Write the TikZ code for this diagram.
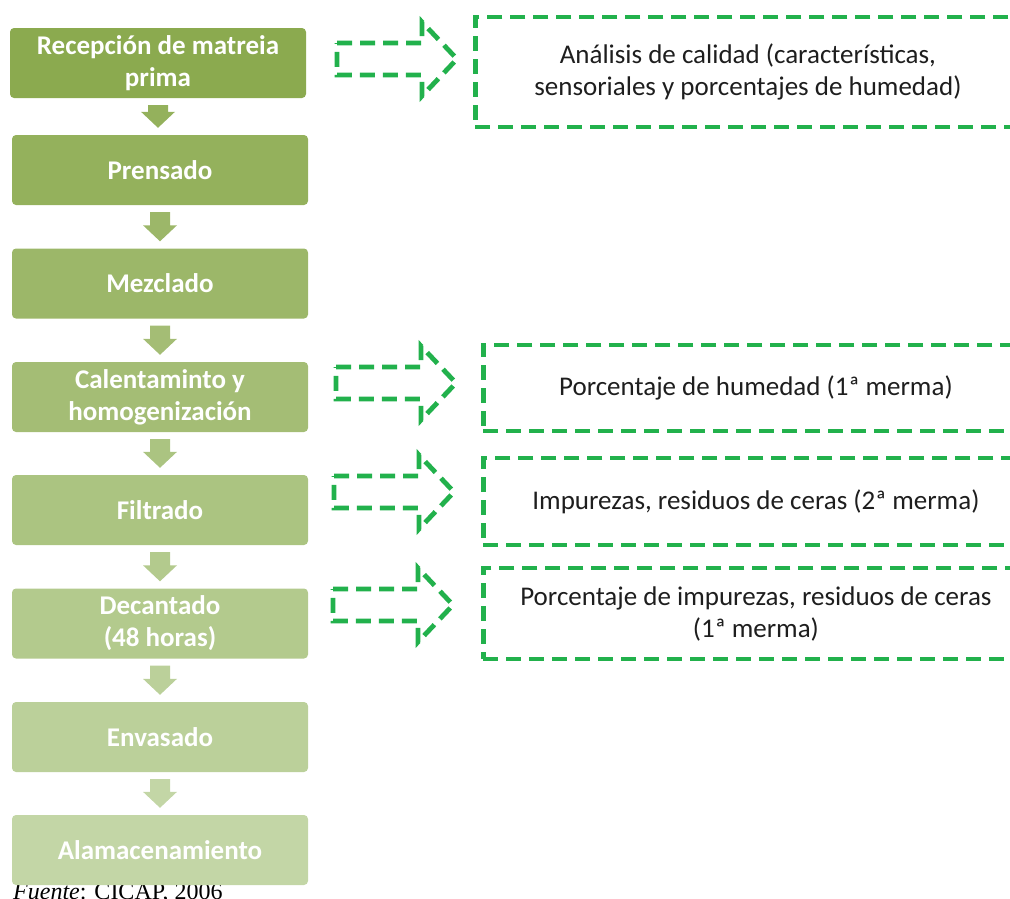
\documentclass[tikz,border=0pt]{standalone}
\usepackage{fontspec}
\setmainfont{Carlito}
\newfontfamily\sourcefont{Liberation Serif}
\usepackage{tikz}
\usetikzlibrary{
    calc,
    positioning
}
\definecolor{greenA}{RGB}{139,170,79}
\definecolor{greenB}{RGB}{148,177,92}
\definecolor{greenC}{RGB}{156,183,105}
\definecolor{greenD}{RGB}{164,189,117}
\definecolor{greenE}{RGB}{171,196,129}
\definecolor{greenF}{RGB}{179,202,141}
\definecolor{greenG}{RGB}{187,208,154}
\definecolor{greenH}{RGB}{195,214,166}
\definecolor{dashgreen}{RGB}{34,177,76}
\definecolor{notegray}{RGB}{30,30,30}
\tikzstyle{stage} = [
    rectangle,
    rounded corners=4pt,
    minimum width=296pt,
    minimum height=70pt,
    inner sep=0pt,
    align=center,
    text=white,
    font=\fontsize{27}{32}\selectfont\bfseries
]
\tikzstyle{note} = [
    rectangle,
    anchor=west,
    draw=dashgreen,
    line width=4.8pt,
    dash pattern=on 15pt off 8pt,
    minimum width=545pt,
    inner sep=0pt,
    align=center,
    text=notegray,
    font=\fontsize{27}{32}\selectfont
]
\tikzstyle{sidearrow} = [
    draw=dashgreen,
    line width=4.8pt,
    dash pattern=on 15pt off 8pt,
    line join=miter
]
% block arrow from one stage down to the next
\newcommand{\stepdown}[3]{%
    \fill[#3] let \p1=(#1.south), \p2=(#2.north) in
        (\x1-10pt,\y1-7pt) -- (\x1+10pt,\y1-7pt) -- (\x1+10pt,\y2+23pt)
        -- (\x1+17pt,\y2+23pt) -- (\x1,\y2+7pt) -- (\x1-17pt,\y2+23pt)
        -- (\x1-10pt,\y2+23pt) -- cycle;}
\begin{document}
\begin{tikzpicture}[x=1pt, y=-1pt]
        \useasboundingbox (0,0) rectangle (1010,898);

        % Source line (mostly hidden behind the last stage)
        \node[anchor=base west, inner sep=0pt, font=\sourcefont\fontsize{24}{28}\selectfont] (fuente) at (13,899) {\textit{Fuente}: CICAP, 2006};

        % Process stages
        \node[stage, fill=greenA] (recepcion) at (158,63) {Recepción de matreia\\prima};
        \node[stage, fill=greenB] (prensado) at (160,170) {Prensado};
        \node[stage, fill=greenC] (mezclado) at (160,283.5) {Mezclado};
        \node[stage, fill=greenD] (calentamiento) at (160,397) {Calentaminto y\\homogenización};
        \node[stage, fill=greenE] (filtrado) at (160,510) {Filtrado};
        \node[stage, fill=greenF] (decantado) at (160,623.5) {Decantado\\(48 horas)};
        \node[stage, fill=greenG] (envasado) at (160,737) {Envasado};
        \node[stage, fill=greenH] (almacen) at (160,850) {Alamacenamiento};

        % Arrows between stages
        \stepdown{recepcion}{prensado}{greenB}
        \stepdown{prensado}{mezclado}{greenC}
        \stepdown{mezclado}{calentamiento}{greenD}
        \stepdown{calentamiento}{filtrado}{greenE}
        \stepdown{filtrado}{decantado}{greenF}
        \stepdown{decantado}{envasado}{greenG}
        \stepdown{envasado}{almacen}{greenH}

        % Controls
        \node[note, minimum height=110pt] (calidad) at (473,72) {Análisis de calidad (características,\\sensoriales y porcentajes de humedad)};
        \node[note, minimum height=86pt] (humedad) at (481,388) {Porcentaje de humedad (1ª merma)};
        \node[note, minimum height=87pt] (impurezas) at (481,501.5) {Impurezas, residuos de ceras (2ª merma)};
        \node[note, minimum height=91pt] (ceras) at (481,613.5) {Porcentaje de impurezas, residuos de ceras\\(1ª merma)};

        % Dashed arrows
        \foreach \ax/\ay in {337/43, 336/367, 334/476, 333/589}
            \draw[sidearrow] (\ax,\ay) -- ++(85,0) -- ++(0,-21) -- ++(35,37) -- ++(-35,37) -- ++(0,-21) -- ++(-85,0) -- cycle;
    \end{tikzpicture}
\end{document}
